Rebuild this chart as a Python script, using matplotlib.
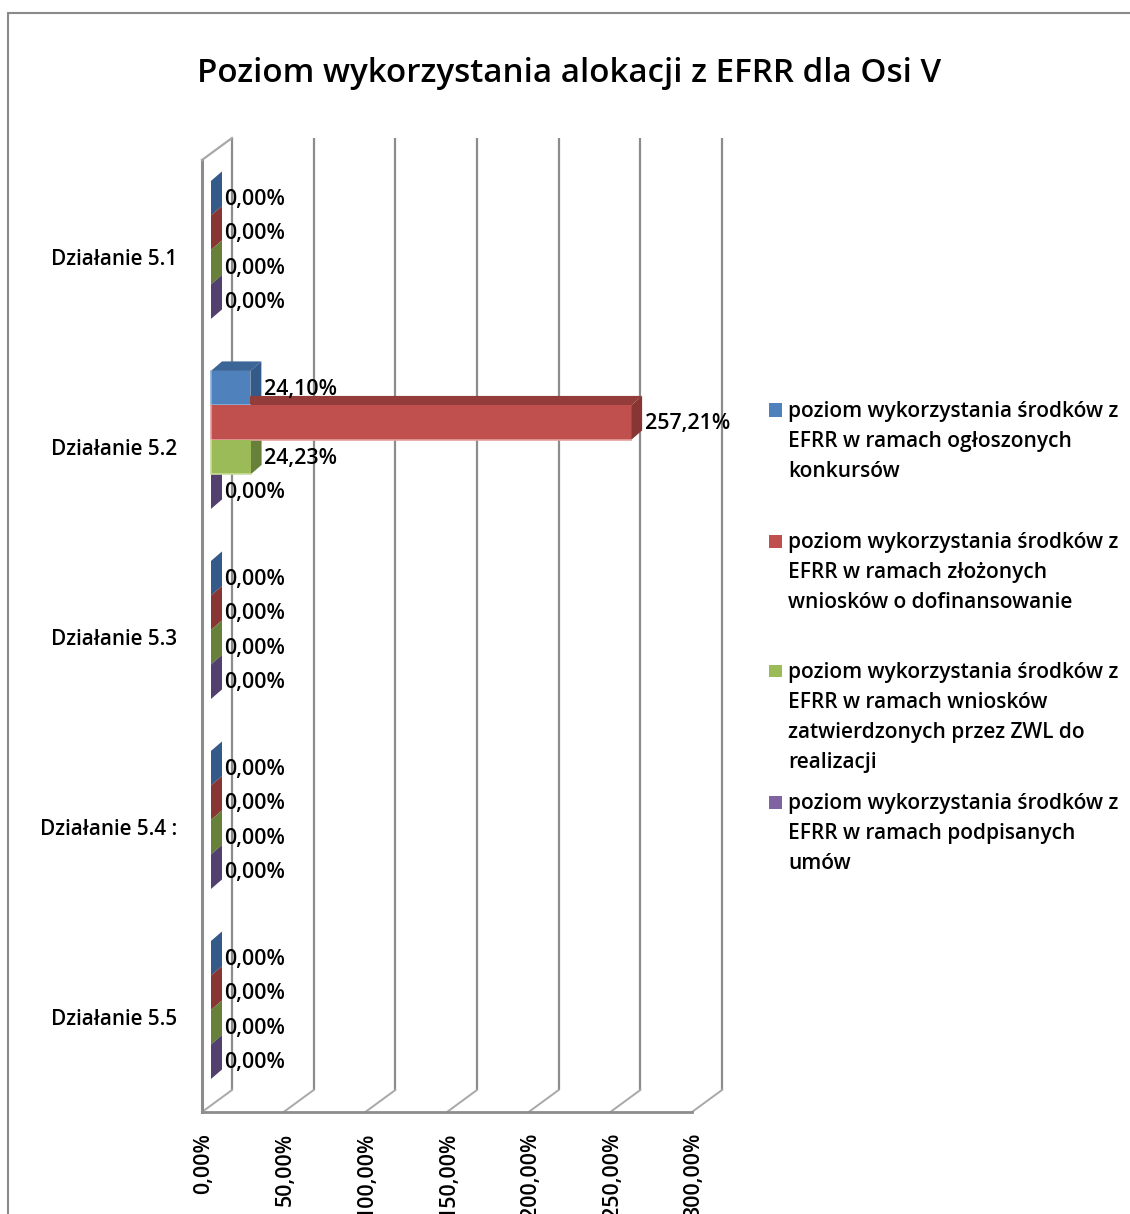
import matplotlib
matplotlib.use("Agg")
import matplotlib.pyplot as plt
from matplotlib.patches import Polygon, Rectangle
from matplotlib.transforms import Affine2D

categories = ["Działanie 5.1", "Działanie 5.2", "Działanie 5.3", "Działanie 5.4 :", "Działanie 5.5"]
ogloszone = [0.0, 24.10, 0.0, 0.0, 0.0]
zlozone = [0.0, 257.21, 0.0, 0.0, 0.0]
zatwierdzone = [0.0, 24.23, 0.0, 0.0, 0.0]
podpisane = [0.0, 0.0, 0.0, 0.0, 0.0]
x_ticks = [0, 50, 100, 150, 200, 250, 300]
x_tick_labels = ["0,00%", "50,00%", "100,00%", "150,00%", "200,00%", "250,00%", "300,00%"]
legend_labels = [
    "poziom wykorzystania środków z\nEFRR w ramach ogłoszonych\nkonkursów",
    "poziom wykorzystania środków z\nEFRR w ramach złożonych\nwniosków o dofinansowanie",
    "poziom wykorzystania środków z\nEFRR w ramach wniosków\nzatwierdzonych przez ZWL do\nrealizacji",
    "poziom wykorzystania środków z\nEFRR w ramach podpisanych\numów",
]
title = "Poziom wykorzystania alokacji z EFRR dla Osi V"

series = [ogloszone, zlozone, zatwierdzone, podpisane]
front = ["#4F81BD", "#C0504D", "#9BBB59", "#8064A2"]
top = ["#3A6596", "#943C3A", "#71893F", "#5C4776"]
side = ["#335A88", "#873633", "#67803A", "#52406E"]
edge = ["#8FB0D8", "#E3A09E", "#C9DC9C", "#B3A2C9"]

W, H = 1130, 1214
FONT = "Open Sans"
WEIGHT = "semibold"
SIZE = 14.9
GRID = "#8C8C8C"
fig = plt.figure(figsize=(W / 100, H / 100), dpi=100, facecolor="white")


def fx(x):
    return x / W


def fy(y):
    return 1 - y / H


# chart-area frame, cut off by the picture on the right and at the bottom
fig.add_artist(Rectangle((fx(8), fy(1300)), fx(1300), fy(13) - fy(1300), transform=fig.transFigure,
                         fill=False, edgecolor="#8A8A8A", linewidth=1.5))

ax = fig.add_axes([fx(202), fy(1112), fx(692 - 202), fy(160) - fy(1112)])
ax.set_xlim(0, 300)
ax.set_ylim(4.5, -0.51)
ax.patch.set_visible(False)
for s in ax.spines.values():
    s.set_visible(False)


def shifted(dx, dy):
    """Data transform moved by screen pixels (dy positive = up)."""
    return ax.transData + Affine2D().translate(dx, dy)


back = shifted(30, 22)
top_y, bottom_y = ax.get_ylim()[1], ax.get_ylim()[0]

# back wall grid and floor
for t in x_ticks:
    ax.plot([t, t], [top_y, bottom_y], color=GRID, lw=1.6, transform=back, clip_on=False, zorder=1,
            solid_capstyle="butt")
    p0 = ax.transData.transform((t, bottom_y))
    ax.plot([p0[0], p0[0] + 30], [p0[1], p0[1] + 22], color="#A8A8A8", lw=1.4,
            transform=None, clip_on=False, zorder=1)
ax.plot([0, 300], [bottom_y, bottom_y], color=GRID, lw=2, clip_on=False, zorder=1)
ax.plot([0, 0], [top_y, bottom_y], color=GRID, lw=2.2, clip_on=False, zorder=1)
p0 = ax.transData.transform((0, top_y))
ax.plot([p0[0], p0[0] + 30], [p0[1], p0[1] + 22], color="#A8A8A8", lw=1.6,
        transform=None, clip_on=False, zorder=1)

# bars: front faces shifted into the depth of the box
bar_h = 34.5 / 190
bars = shifted(9, 7)
depth_x, depth_y = 11, 9.5
for c in range(len(categories)):
    for i, vals in enumerate(series):
        v = vals[c]
        y0 = c - 2 * bar_h + i * bar_h
        y1 = y0 + bar_h
        (xa, ya), (xb, yb) = bars.transform([(0, y0), (v, y1)])
        z = 3 + c * 10 + i * 0.1
        ax.add_patch(Polygon([(xa, ya), (xa + depth_x, ya + depth_y), (xb + depth_x, ya + depth_y), (xb, ya)],
                             closed=True, transform=None, facecolor=top[i], edgecolor="none",
                             clip_on=False, zorder=z))
        ax.add_patch(Polygon([(xb, ya), (xb + depth_x, ya + depth_y), (xb + depth_x, yb + depth_y), (xb, yb)],
                             closed=True, transform=None, facecolor=side[i], edgecolor="none",
                             clip_on=False, zorder=z))
        if v > 0:
            ax.add_patch(Rectangle((0, y0), v, bar_h, transform=bars, facecolor=front[i],
                                   edgecolor="none", clip_on=False, zorder=z + 5))
            ax.plot([0, 0, v], [y0, y1, y1], color=edge[i], lw=1.2, transform=bars, clip_on=False,
                    zorder=z + 5.05)
        ax.annotate(f"{v:.2f}%".replace(".", ","), xy=(v, (y0 + y1) / 2), xycoords=bars,
                    xytext=(13.5 * 0.72, -0.7), textcoords="offset points", ha="left", va="center",
                    fontsize=15.4, family=FONT, fontweight=WEIGHT, color="black", zorder=200,
                    annotation_clip=False)

ax.set_xticks(x_ticks)
ax.set_xticklabels(x_tick_labels, rotation=90, ha="center", va="top", fontsize=15.4, family=FONT,
                   fontweight=WEIGHT)
ax.set_yticks(range(len(categories)))
ax.set_yticklabels(categories, fontsize=SIZE, family=FONT, fontweight=WEIGHT)
ax.tick_params(axis="x", length=0, pad=15)
ax.tick_params(axis="y", length=0, pad=18)
for lab in ax.get_xticklabels():
    lab.set_transform(lab.get_transform() + Affine2D().translate(2, 0))

fig.text(fx(569), fy(73.5), title, ha="center", va="center", fontsize=23.9, family=FONT,
         fontweight="semibold", color="black")

# legend
legend_tops = [410, 541, 671, 802]
for label, y, color in zip(legend_labels, legend_tops, front):
    fig.add_artist(Rectangle((fx(769), fy(y + 6.5)), fx(13), fy(y - 6.5) - fy(y + 6.5),
                             transform=fig.transFigure, facecolor=color, edgecolor="none"))
    fig.text(fx(788), fy(y - 9), label, ha="left", va="top", fontsize=15.05, family=FONT,
             fontweight=WEIGHT, color="black", linespacing=1.56)

fig.savefig("out.png", dpi=100)
